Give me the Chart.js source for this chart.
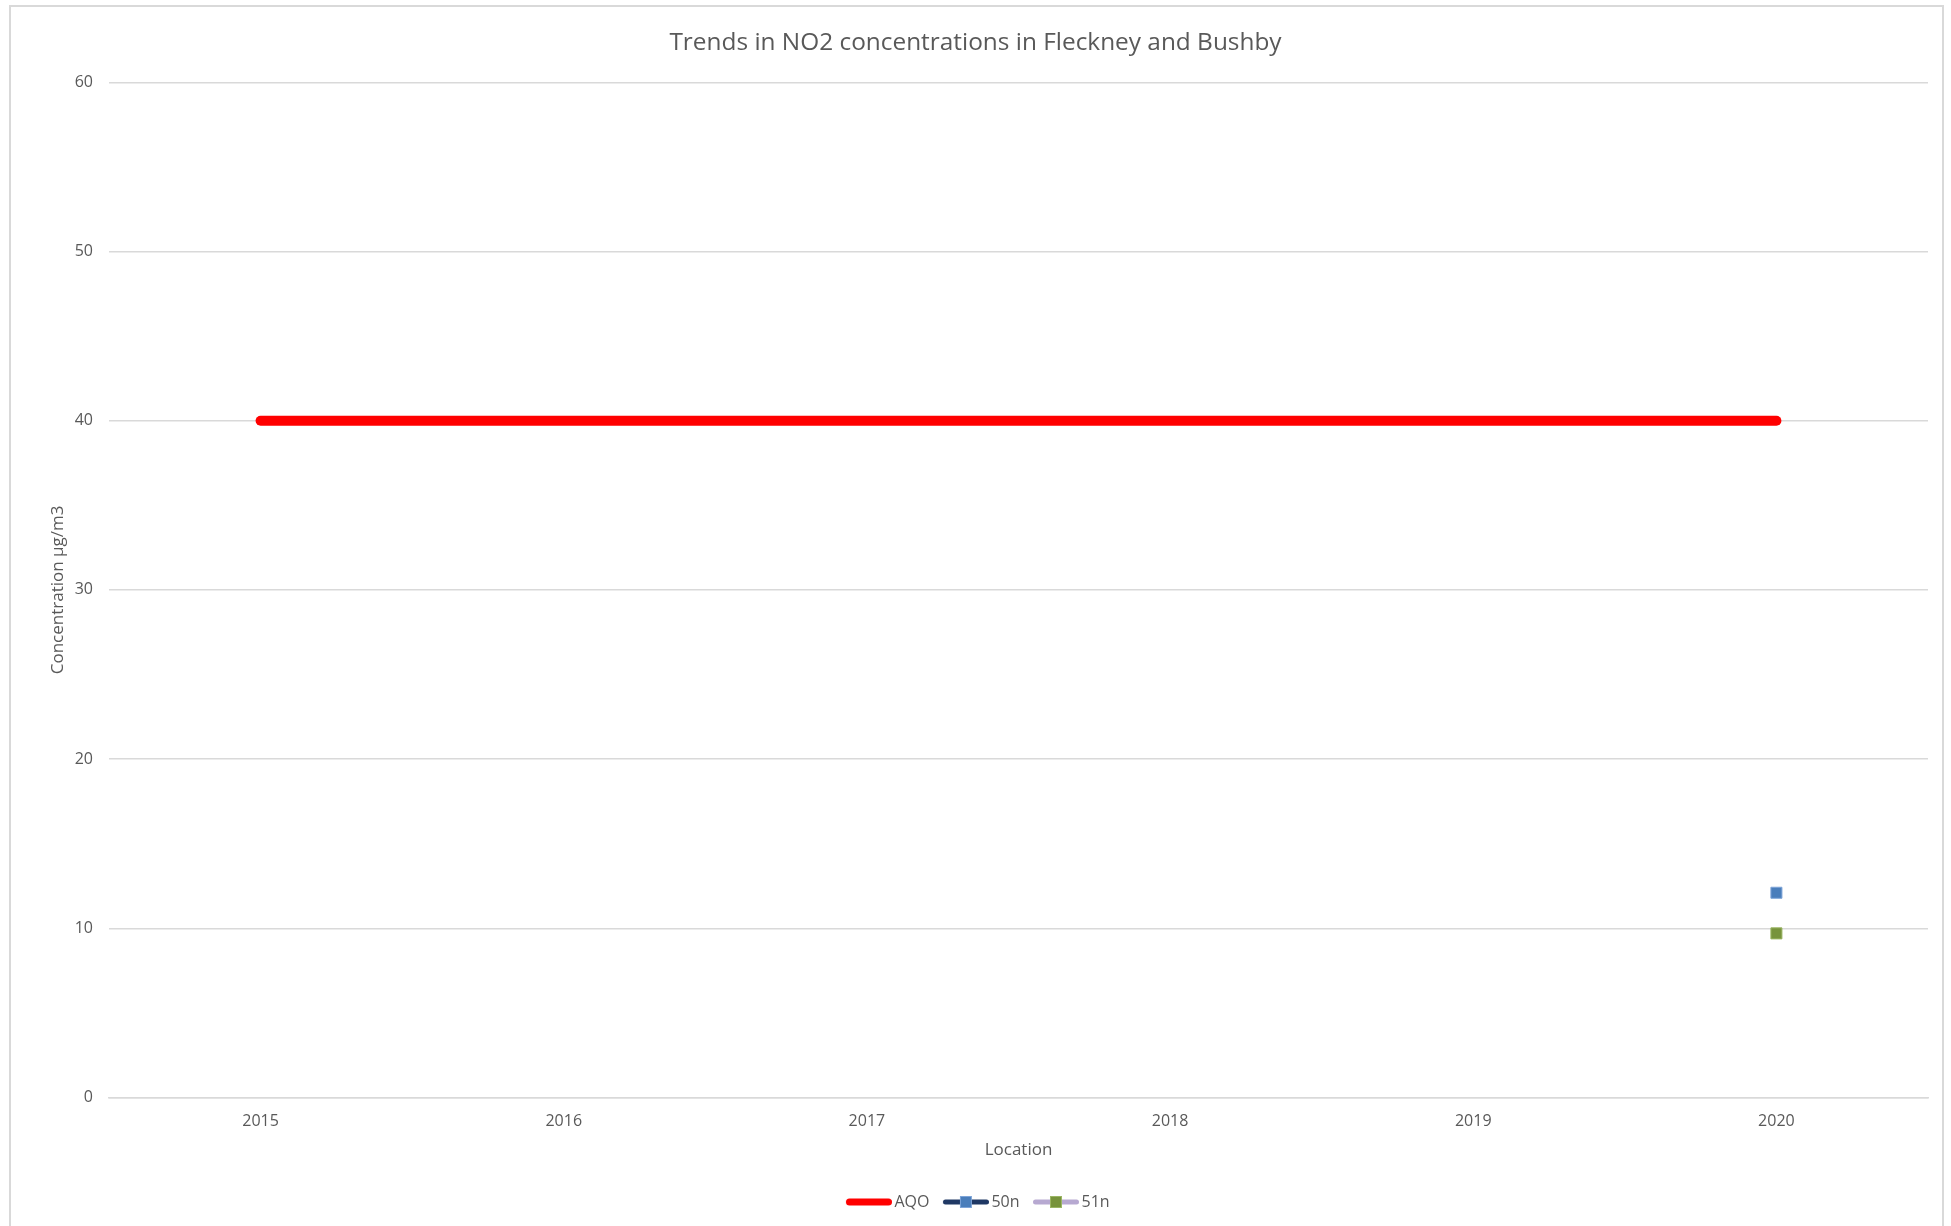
<!DOCTYPE html>
<html>
<head>
<meta charset="utf-8">
<script src="https://cdn.jsdelivr.net/npm/chart.js@4/dist/chart.umd.min.js"></script>
<style>
html,body{margin:0;padding:0;background:#fff;}
#wrap{width:1951px;height:1226px;position:relative;}
</style>
</head>
<body>
<div id="wrap"><canvas id="c" width="1951" height="1226"></canvas></div>
<script>
const years = ['2015','2016','2017','2018','2019','2020'];
const aqo = [40, 40, 40, 40, 40, 40];
const s50n = [null, null, null, null, null, 12.1];
const s51n = [null, null, null, null, null, 9.7];
const yTicks = [0, 10, 20, 30, 40, 50, 60];

// Legend swatch: transparent left margin so the line sits close to its label
function legendImg(lineColor, lineW, markerColor, markerBorder) {
  const c = document.createElement('canvas');
  c.width = 56; c.height = 14;
  const g = c.getContext('2d');
  g.strokeStyle = lineColor; g.lineWidth = lineW;
  g.lineCap = 'round';
  g.beginPath(); g.moveTo(10 + lineW/2, 7); g.lineTo(56 - lineW/2, 7); g.stroke();
  if (markerColor) {
    g.fillStyle = markerColor;
    g.fillRect(27.5, 1.5, 11, 11);
    g.strokeStyle = markerBorder; g.lineWidth = 1;
    g.strokeRect(27.5, 1.5, 11, 11);
  }
  return c;
}
const imgAQO = legendImg('#ff0000', 7, null, null);
const img50 = legendImg('#1f3864', 5, '#4a7ebb', '#7da4d8');
const img51 = legendImg('#b7a9d1', 5, '#77933c', '#9ab563');

const borderPlugin = {
  id: 'outerBorder',
  beforeDraw(chart) {
    const g = chart.ctx;
    g.save();
    g.fillStyle = '#ffffff';
    g.fillRect(0, 0, chart.width, chart.height);
    g.strokeStyle = '#d9d9d9';
    g.lineWidth = 2;
    g.strokeRect(10, 6, 1933, 1240);
    g.restore();
  }
};

const grey = '#595959';
const font = {family: '"Open Sans", sans-serif', size: 16};
const titleFont = {family: '"Open Sans", sans-serif', size: 17};

new Chart(document.getElementById('c'), {
  type: 'line',
  data: {
    labels: years,
    datasets: [
      {label: 'AQO', data: aqo, borderColor: '#ff0000', backgroundColor: '#ff0000',
       borderWidth: 10, borderCapStyle: 'round', pointRadius: 0, pointHoverRadius: 0, order: 3},
      {label: '50n', data: s50n, borderColor: '#1f3864', backgroundColor: '#4a7ebb',
       borderWidth: 5, pointStyle: 'rect', pointRadius: 7.8, pointBackgroundColor: '#4a7ebb',
       pointBorderColor: '#7da4d8', pointBorderWidth: 1, order: 2},
      {label: '51n', data: s51n, borderColor: '#b7a9d1', backgroundColor: '#77933c',
       borderWidth: 5, pointStyle: 'rect', pointRadius: 7.8, pointBackgroundColor: '#77933c',
       pointBorderColor: '#9ab563', pointBorderWidth: 1, order: 1}
    ]
  },
  options: {
    responsive: false,
    animation: false,
    layout: {padding: {left: 23, right: 23, top: 0, bottom: 6}},
    plugins: {
      title: {display: true, text: 'Trends in NO2 concentrations in Fleckney and Bushby',
        color: grey, font: {family: '"Open Sans", sans-serif', size: 24.4, weight: 'normal'},
        padding: {top: 28, bottom: 25}},
      legend: {
        position: 'bottom',
        labels: {
          color: grey, font: {family: '"Open Sans", sans-serif', size: 16},
          usePointStyle: true, pointStyleWidth: 45, padding: 9,
          generateLabels(chart) {
            const imgs = [imgAQO, img50, img51];
            return chart.data.datasets.map((d, i) => ({
              text: d.label, pointStyle: imgs[i], fillStyle: d.borderColor,
              strokeStyle: d.borderColor, lineWidth: 0, hidden: false,
              datasetIndex: i, fontColor: grey
            }));
          }
        }
      },
      tooltip: {enabled: false}
    },
    scales: {
      x: {
        type: 'category',
        offset: true,
        grid: {display: false, drawTicks: false},
        border: {display: true, color: '#d9d9d9', width: 1.5},
        ticks: {color: grey, font: font, padding: 14},
        title: {display: true, text: 'Location', color: grey, font: titleFont, padding: {top: 4, bottom: 24.9}},
        afterFit(scale) { scale.height = 87.5; }
      },
      y: {
        min: 0, max: 60,
        afterBuildTicks(scale) { scale.ticks = yTicks.map(v => ({value: v})); },
        grid: {color: '#d9d9d9', lineWidth: 1.5, drawTicks: false},
        border: {display: false},
        ticks: {color: grey, font: font, padding: 16},
        title: {display: true, text: 'Concentration µg/m3', color: grey, font: titleFont, padding: {top: 25, bottom: 0}},
        afterFit(scale) { scale.width = 86; }
      }
    }
  },
  plugins: [borderPlugin]
});
</script>
</body>
</html>
